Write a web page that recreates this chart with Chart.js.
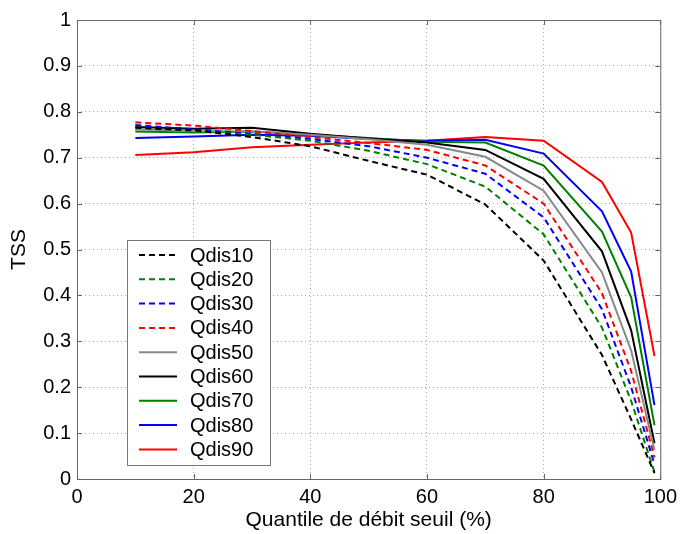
<!DOCTYPE html>
<html>
<head>
<meta charset="utf-8">
<script src="https://cdn.jsdelivr.net/npm/chart.js@4/dist/chart.umd.min.js"></script>
<style>
  html, body { margin: 0; padding: 0; background: white; }
  #wrap { width: 683px; height: 534px; }
</style>
</head>
<body>
<div id="wrap"><canvas id="chart" width="683" height="534"></canvas></div>
<script>
// quantile thresholds (%)
const quantiles = [10, 20, 30, 40, 50, 60, 70, 80, 90, 95, 99]

const qdis10 = [0.765, 0.760, 0.745, 0.725, 0.693, 0.663, 0.598, 0.476, 0.270, 0.130, 0.013]
const qdis20 = [0.766, 0.758, 0.750, 0.737, 0.715, 0.686, 0.637, 0.533, 0.330, 0.170, 0.015]
const qdis30 = [0.771, 0.762, 0.752, 0.741, 0.725, 0.700, 0.665, 0.570, 0.370, 0.200, 0.032]
const qdis40 = [0.777, 0.770, 0.758, 0.745, 0.732, 0.717, 0.683, 0.600, 0.405, 0.235, 0.047]
const qdis50 = [0.762, 0.758, 0.757, 0.750, 0.740, 0.728, 0.702, 0.628, 0.450, 0.280, 0.063]
const qdis60 = [0.767, 0.763, 0.765, 0.752, 0.742, 0.733, 0.717, 0.654, 0.496, 0.324, 0.078]
const qdis70 = [0.757, 0.755, 0.757, 0.750, 0.743, 0.735, 0.733, 0.683, 0.539, 0.396, 0.117]
const qdis80 = [0.743, 0.746, 0.750, 0.748, 0.741, 0.737, 0.739, 0.709, 0.583, 0.452, 0.161]
const qdis90 = [0.706, 0.712, 0.723, 0.728, 0.733, 0.737, 0.745, 0.737, 0.647, 0.537, 0.268]

const seriesNames = ['Qdis10', 'Qdis20', 'Qdis30', 'Qdis40', 'Qdis50', 'Qdis60', 'Qdis70', 'Qdis80', 'Qdis90']
const seriesValues = [qdis10, qdis20, qdis30, qdis40, qdis50, qdis60, qdis70, qdis80, qdis90]
const seriesColors = ['#000000', '#008000', '#0000ff', '#ff0000', '#888888', '#000000', '#008000', '#0000ff', '#ff0000']
const seriesDashed = [true, true, true, true, false, false, false, false, false]

const FONT = 'Arial, "Liberation Sans", sans-serif'

const datasets = seriesNames.map((name, i) => ({
  label: name,
  data: quantiles.map((q, j) => ({ x: q, y: seriesValues[i][j] })),
  borderColor: seriesColors[i],
  borderWidth: 2,
  borderDash: seriesDashed[i] ? [6, 4] : [],
  pointRadius: 0,
  fill: false,
  tension: 0
}))

// box around the axes, inward tick marks, legend inside the plot
const matlabLook = {
  id: 'matlabLook',
  afterDraw(chart) {
    const { ctx, chartArea: a, scales } = chart
    ctx.save()
    ctx.strokeStyle = '#666'
    ctx.lineWidth = 1
    ctx.strokeRect(a.left + 0.5, a.top + 0.5, a.right - a.left, a.bottom - a.top)
    ctx.beginPath()
    scales.y.ticks.forEach(t => {
      const y = Math.round(scales.y.getPixelForValue(t.value)) + 0.5
      ctx.moveTo(a.left, y); ctx.lineTo(a.left + 5, y)
      ctx.moveTo(a.right, y); ctx.lineTo(a.right - 5, y)
    })
    scales.x.ticks.forEach(t => {
      const x = Math.round(scales.x.getPixelForValue(t.value)) + 0.5
      ctx.moveTo(x, a.bottom); ctx.lineTo(x, a.bottom - 5)
      ctx.moveTo(x, a.top); ctx.lineTo(x, a.top + 5)
    })
    ctx.stroke()

    // legend
    const bx = 127, by = 240, bw = 143, bh = 225
    ctx.fillStyle = 'white'
    ctx.fillRect(bx, by, bw, bh)
    ctx.strokeStyle = '#777'
    ctx.strokeRect(bx + 0.5, by + 0.5, bw, bh)
    ctx.font = '20px ' + FONT
    ctx.textBaseline = 'middle'
    chart.data.datasets.forEach((ds, i) => {
      const y = by + 15 + i * 24.3
      ctx.beginPath()
      ctx.strokeStyle = ds.borderColor
      ctx.lineWidth = 2
      ctx.setLineDash(ds.borderDash)
      ctx.moveTo(139, y); ctx.lineTo(177, y)
      ctx.stroke()
      ctx.setLineDash([])
      ctx.fillStyle = '#000'
      ctx.fillText(ds.label, 190, y + 1)
    })
    ctx.restore()
  }
}

new Chart(document.getElementById('chart'), {
  type: 'line',
  data: { datasets },
  options: {
    responsive: false,
    animation: false,
    layout: { padding: { left: 0, top: 20, right: 21, bottom: 0 } },
    plugins: { legend: { display: false }, tooltip: { enabled: false } },
    scales: {
      x: {
        type: 'linear',
        min: 0, max: 100,
        afterFit(scale) { scale.height = 55 },
        border: { display: false, dash: [1, 3] },
        grid: { color: '#aaa', drawTicks: false },
        ticks: { stepSize: 20, padding: 6, color: '#000', font: { family: FONT, size: 20 } },
        title: { display: true, text: 'Quantile de débit seuil (%)', color: '#000',
                 font: { family: FONT, size: 21 }, padding: { top: 0, bottom: 1 } }
      },
      y: {
        min: 0, max: 1,
        afterFit(scale) { scale.width = 77 },
        border: { display: false, dash: [1, 3] },
        grid: { color: '#aaa', drawTicks: false },
        ticks: {
          stepSize: 0.1, padding: 6, color: '#000', font: { family: FONT, size: 20 },
          callback: v => String(Math.round(v * 10) / 10)
        },
        title: { display: true, text: 'TSS', color: '#000',
                 font: { family: FONT, size: 21 }, padding: { top: 7, bottom: 0 } }
      }
    }
  },
  plugins: [matlabLook]
})
</script>
</body>
</html>
